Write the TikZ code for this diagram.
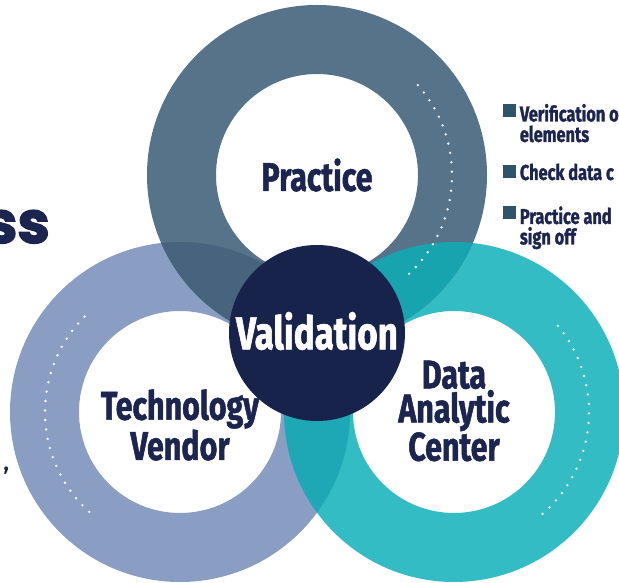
\documentclass[tikz,border=0pt]{standalone}
\usepackage{fontspec}
\setmainfont{Fira Sans}
\newfontfamily\narrowfont{Fira Sans}[FakeStretch=0.76, FakeBold=1.3]
\newfontfamily\headfont{Poppins}[FakeBold=2.5]
\usetikzlibrary{positioning}
\definecolor{slate}{HTML}{56738A}
\definecolor{lavender}{HTML}{8A9EC4}
\definecolor{teal}{HTML}{34BCC4}
\definecolor{slatelav}{HTML}{48637E}
\definecolor{slateteal}{HTML}{18A4AE}
\definecolor{lavteal}{HTML}{1EA8B6}
\definecolor{navy}{HTML}{17234B}
\definecolor{ink}{HTML}{1B2550}
\definecolor{bulletc}{HTML}{2F5369}

\begin{document}
\begin{tikzpicture}[x=1pt,y=1pt,
  ring/.style={even odd rule},
  dots/.style={white, line width=2.6pt, line cap=round, dash pattern=on 0pt off 9.5pt},
  lbl/.style={text=ink, align=center, inner sep=0pt, font=\narrowfont\bfseries\fontsize{40}{34}\selectfont},
  sq/.style={fill=bulletc, minimum size=13pt, inner sep=0pt},
  item/.style={text=ink, align=left, inner sep=0pt, font=\narrowfont\bfseries\fontsize{21.5}{20.5}\selectfont}]
\useasboundingbox (0,0) rectangle (619,583);
\fill[white] (0,0) rectangle (619,583);
\coordinate (P) at (317,408);
\coordinate (T) at (180,171);
\coordinate (D) at (454,171);
\coordinate (V) at (317,250);

\fill[lavender, ring] (T) circle (170pt) (T) circle (101pt);
\fill[teal, ring] (D) circle (170pt) (D) circle (101pt);
\fill[slate, ring] (P) circle (170pt) (P) circle (101pt);
\begin{scope}[ring]
\clip (P) circle (170pt) (P) circle (101pt);
\fill[slatelav] (T) circle (170pt) (T) circle (101pt);
\fill[slateteal] (D) circle (170pt) (D) circle (101pt);
\end{scope}
\begin{scope}[ring]
\clip (T) circle (170pt) (T) circle (101pt);
\fill[lavteal] (D) circle (170pt) (D) circle (101pt);
\end{scope}

\draw[dots] (P) ++(-47:135pt) arc[start angle=-47, end angle=42, radius=135pt];
\draw[dots] (T) ++(135:135pt) arc[start angle=135, end angle=229, radius=135pt];
\draw[dots] (D) ++(-49:135pt) arc[start angle=-49, end angle=42, radius=135pt];

\fill[navy] (V) circle (88pt);

\node[lbl] (practice) at (P) {Practice};
\node[lbl, text=white, font=\narrowfont\bfseries\fontsize{46}{40}\selectfont] (validation) at ([yshift=2pt]V) {Validation};
\node[lbl] (vendor) at ([yshift=-13pt]T) {Technology\\Vendor};
\node[lbl] (center) at ([yshift=1pt]D) {Data\\Analytic\\Center};

\node[sq] (b1) at (509,472.5) {};
\node[sq] (b2) at (509,411) {};
\node[sq] (b3) at (509,370) {};
\node[item, right=4pt of b1.north east, anchor=north west] (i1) {Verification o\\elements};
\node[item, right=4pt of b2] (i2) {Check data c};
\node[item, right=4pt of b3.north east, anchor=north west] (i3) {Practice and\\sign off};

\node[text=ink, anchor=base east, inner sep=0pt, font=\headfont\bfseries\fontsize{58}{58}\selectfont] (head) at (50,340) {ss};
\node[text=ink, anchor=base east, inner sep=0pt, font=\bfseries\fontsize{22}{22}\selectfont] (comma) at (9,112) {,};
\end{tikzpicture}
\end{document}
